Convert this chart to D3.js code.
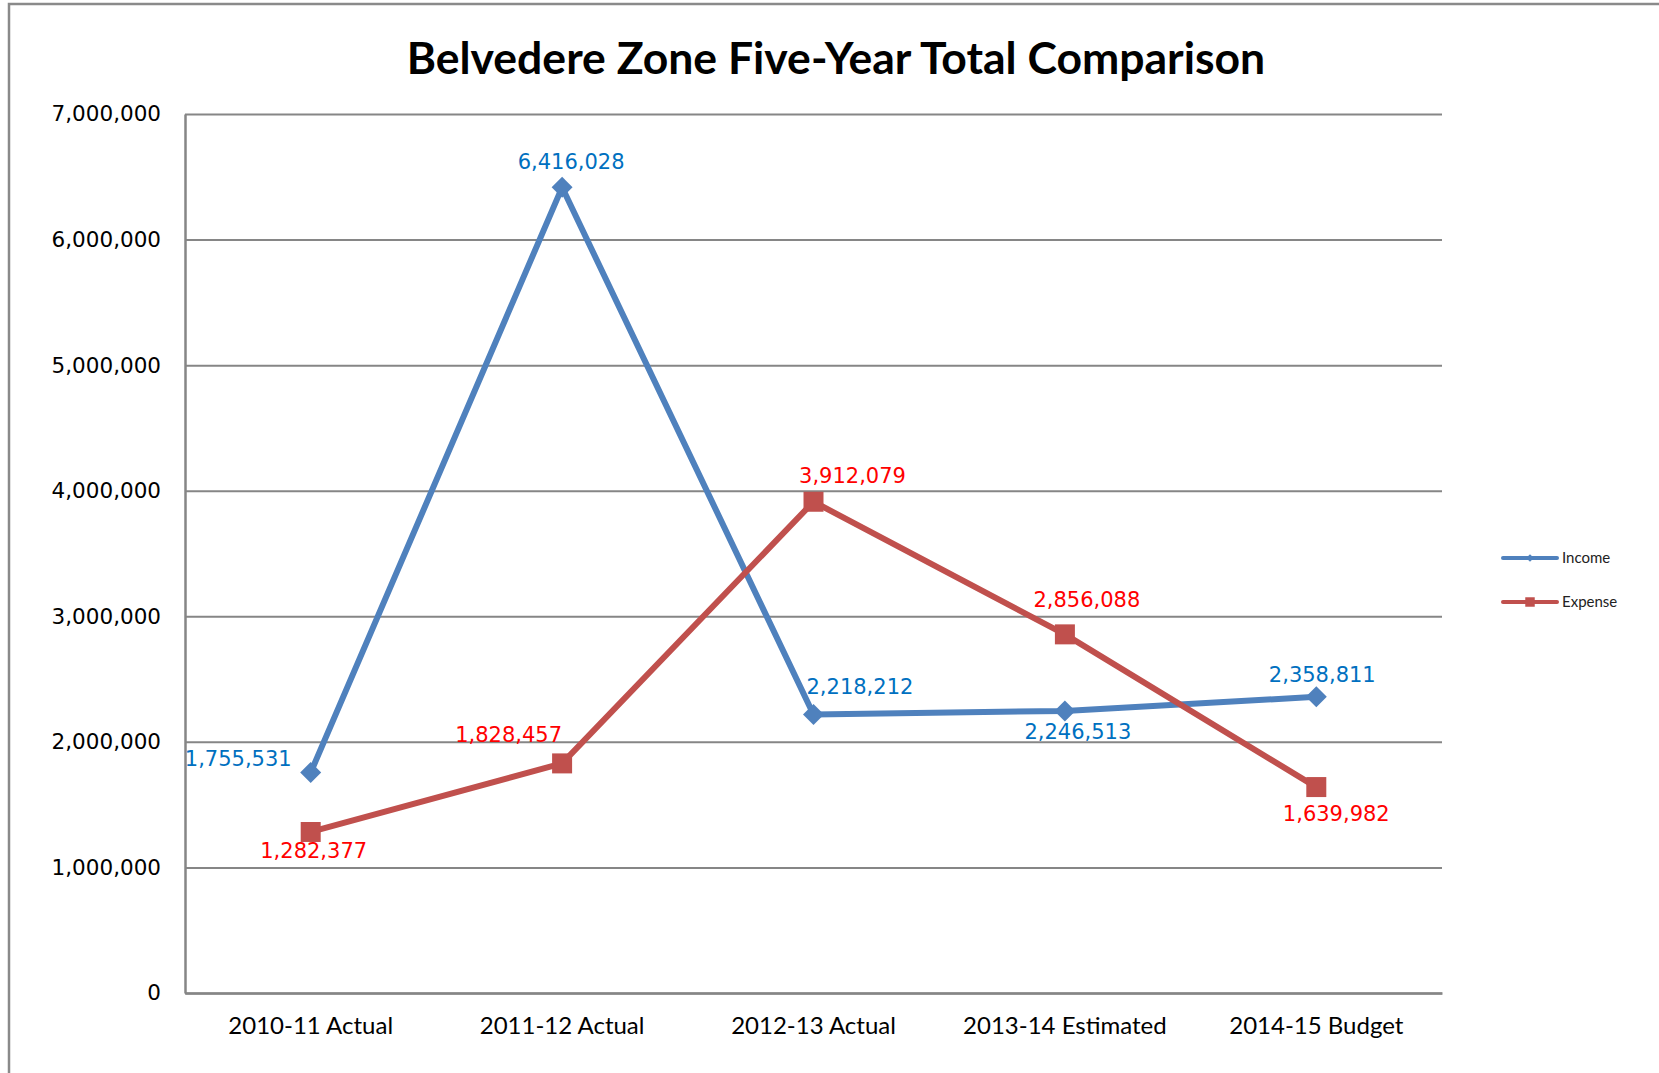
<!DOCTYPE html>
<html>
<head>
<meta charset="utf-8">
<script src="https://cdn.jsdelivr.net/npm/d3@7"></script>
<style>
  html, body { margin: 0; padding: 0; background: #fff; }
  svg { display: block; }
</style>
</head>
<body>
<script>
// ---------- data ----------
const categories = ["2010-11 Actual", "2011-12 Actual", "2012-13 Actual", "2013-14 Estimated", "2014-15 Budget"];
const incomeValues = [1755531, 6416028, 2218212, 2246513, 2358811];
const expenseValues = [1282377, 1828457, 3912079, 2856088, 1639982];
const seriesNames = ["Income", "Expense"];
const yTickValues = [0, 1000000, 2000000, 3000000, 4000000, 5000000, 6000000, 7000000];
const titleText = "Belvedere Zone Five-Year Total Comparison";

// label placement (style config, px offsets of label from its point: dx, dy, anchor)
const incomeLabelPlacement = [[-19, -7, "end"], [9, -18, "middle"], [-7, -20, "start"], [13, 28, "middle"], [6, -15, "middle"]];
const expenseLabelPlacement = [[3, 26, "middle"], [0, -21, "end"], [39, -19, "middle"], [22, -27, "middle"], [20, 34, "middle"]];

// ---------- layout ----------
const W = 1659, H = 1073;
const plot = { left: 185, right: 1442, top: 114, bottom: 993 };
const colors = {
  incomeLine: "#4F81BD", expenseLine: "#C0504D",
  incomeLabel: "#0070C0", expenseLabel: "#FF0000",
  grid: "#868686", text: "#000"
};

const svg = d3.select("body").append("svg").attr("width", W).attr("height", H);

// outer chart border
svg.append("path")
  .attr("d", `M9,${H + 5} L9,4 L${W + 5},4`)
  .attr("fill", "none").attr("stroke", "#8a8a8a").attr("stroke-width", 2.5);

// title
svg.append("text")
  .attr("x", 836).attr("y", 74)
  .attr("text-anchor", "middle")
  .style("font-family", "Lato, 'Open Sans', sans-serif")
  .style("font-weight", 700)
  .style("font-size", "44.5px")
  .attr("fill", colors.text)
  .text(titleText);

const x = d3.scaleBand().domain(categories).range([plot.left, plot.right]).padding(0);
const y = d3.scaleLinear().domain([0, 7000000]).range([plot.bottom, plot.top]);
const cx = d => x(d) + x.bandwidth() / 2;

// gridlines
const grid = svg.append("g").attr("transform", `translate(${plot.left},0)`)
  .call(d3.axisLeft(y).tickValues(yTickValues).tickSize(-(plot.right - plot.left)).tickFormat(""));
grid.select(".domain").remove();
grid.selectAll("line").attr("stroke", colors.grid).attr("stroke-width", 2);

// y axis
const yAxis = svg.append("g").attr("transform", `translate(${plot.left},0)`)
  .call(d3.axisLeft(y).tickValues(yTickValues).tickSize(0).tickPadding(24).tickFormat(d3.format(",")));
yAxis.select(".domain").attr("stroke", colors.grid).attr("stroke-width", 2.5);
yAxis.selectAll("text")
  .style("font-family", "'DejaVu Sans', sans-serif")
  .style("font-size", "21.5px")
  .attr("fill", colors.text);

// x axis
const xAxis = svg.append("g").attr("transform", `translate(0,${plot.bottom})`)
  .call(d3.axisBottom(x).tickSize(0).tickPadding(24));
xAxis.select(".domain").attr("stroke", colors.grid).attr("stroke-width", 2.5);
xAxis.selectAll("text")
  .style("font-family", "Lato, 'Open Sans', sans-serif")
  .style("font-size", "24px")
  .attr("fill", colors.text);

// series
const series = [
  { name: seriesNames[0], values: incomeValues, color: colors.incomeLine, labelColor: colors.incomeLabel, marker: "diamond", place: incomeLabelPlacement },
  { name: seriesNames[1], values: expenseValues, color: colors.expenseLine, labelColor: colors.expenseLabel, marker: "square", place: expenseLabelPlacement }
];

const line = d3.line().x((d, i) => cx(categories[i])).y(d => y(d));

series.forEach(s => {
  const g = svg.append("g");
  g.append("path").datum(s.values)
    .attr("d", line).attr("fill", "none")
    .attr("stroke", s.color).attr("stroke-width", 6)
    .attr("stroke-linejoin", "round");
  g.selectAll(".m").data(s.values).enter().append("path")
    .attr("d", d3.symbol().type(d3.symbolSquare).size(s.marker === "diamond" ? 220 : 400))
    .attr("transform", (d, i) => `translate(${cx(categories[i])},${y(d)})` + (s.marker === "diamond" ? " rotate(45)" : ""))
    .attr("fill", s.color);
  g.selectAll(".lbl").data(s.values).enter().append("text")
    .attr("x", (d, i) => cx(categories[i]) + s.place[i][0])
    .attr("y", (d, i) => y(d) + s.place[i][1])
    .attr("text-anchor", (d, i) => s.place[i][2])
    .style("font-family", "'DejaVu Sans', sans-serif")
    .style("font-size", "21px")
    .attr("fill", s.labelColor)
    .text(d => d3.format(",")(d));
});

// legend
const legend = svg.append("g");
series.forEach((s, i) => {
  const ly = 558 + i * 44;
  legend.append("line").attr("x1", 1503).attr("x2", 1557).attr("y1", ly).attr("y2", ly)
    .attr("stroke", s.color).attr("stroke-width", 4).attr("stroke-linecap", "round");
  legend.append("path")
    .attr("d", d3.symbol().type(d3.symbolSquare).size(s.marker === "diamond" ? 30 : 90))
    .attr("transform", `translate(1530,${ly})` + (s.marker === "diamond" ? " rotate(45)" : ""))
    .attr("fill", s.color);
  legend.append("text").attr("x", 1562).attr("y", ly + 5)
    .style("font-family", "Lato, 'Open Sans', sans-serif")
    .style("font-size", "15px")
    .attr("fill", "#222")
    .text(s.name);
});
</script>
</body>
</html>
